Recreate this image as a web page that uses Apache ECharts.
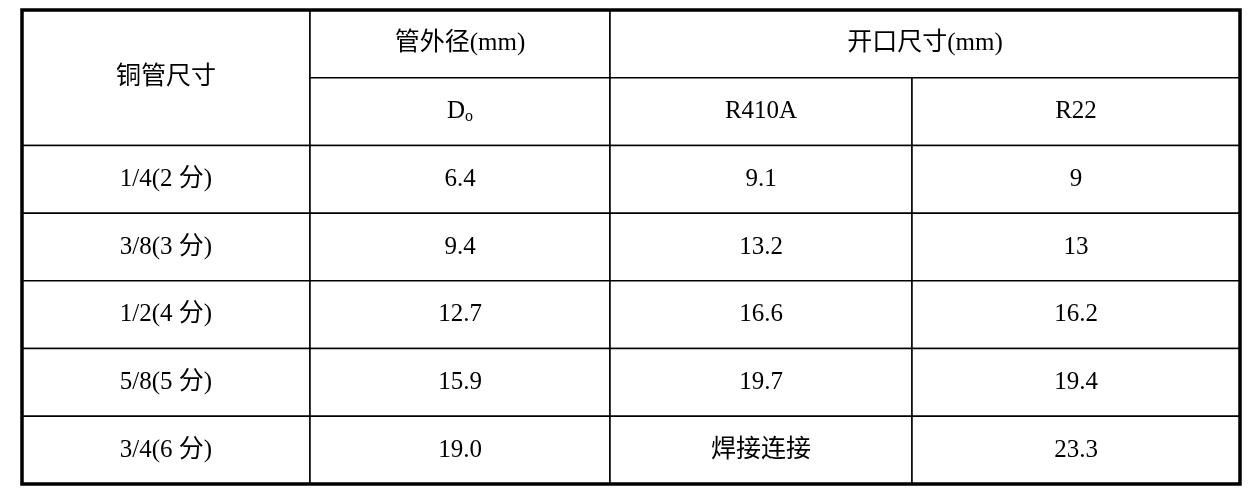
<!DOCTYPE html>
<html><head><meta charset="utf-8">
<script src="https://cdn.jsdelivr.net/npm/echarts@6/dist/echarts.min.js"></script>
<style>html,body{margin:0;padding:0;background:#fff}#c{width:1253px;height:497px}</style>
</head><body><div id="c"></div>
<script>
const colEdges = [0, 288, 588, 890, 1218];
const headerCells = [
  [0, 1, 0, 2, '铜管尺寸'],
  [1, 2, 0, 1, '管外径(mm)'],
  [2, 4, 0, 1, '开口尺寸(mm)'],
  [1, 2, 1, 2, '{d|D}{s|o}'],
  [2, 3, 1, 2, 'R410A'],
  [3, 4, 1, 2, 'R22']
];
const sizes = ['1/4(2 分)', '3/8(3 分)', '1/2(4 分)', '5/8(5 分)', '3/4(6 分)'];
const outerDiameter = ['6.4', '9.4', '12.7', '15.9', '19.0'];
const r410a = ['9.1', '13.2', '16.6', '19.7', '焊接连接'];
const r22 = ['9', '13', '16.2', '19.4', '23.3'];

const cells = headerCells.map(c => [colEdges[c[0]], colEdges[c[1]], c[2], c[3], c[4]]);
sizes.forEach((s, i) => {
  const row = [s, outerDiameter[i], r410a[i], r22[i]];
  row.forEach((t, j) => cells.push([colEdges[j], colEdges[j + 1], i + 2, i + 3, t]));
});
const font = '"Liberation Serif","Noto Sans CJK SC",serif';
const chart = echarts.init(document.getElementById('c'));
chart.setOption({
  animation: false,
  grid: {left: 22, right: 13, top: 10, bottom: 13},
  xAxis: {type: 'value', min: 0, max: 1218, show: false},
  yAxis: {type: 'value', min: 0, max: 7, inverse: true, show: false},
  series: [{
    type: 'custom',
    data: cells,
    renderItem: (params, api) => {
      const p0 = api.coord([api.value(0), api.value(2)]);
      const p1 = api.coord([api.value(1), api.value(3)]);
      const txt = cells[params.dataIndex][4];
      return {
        type: 'rect',
        shape: {x: p0[0], y: p0[1], width: p1[0] - p0[0], height: p1[1] - p0[1]},
        style: {fill: '#fff', stroke: '#000', lineWidth: 1.5},
        textContent: {
          style: {
            text: txt, fill: '#000', fontSize: 25, fontFamily: font,
            rich: {d: {fontSize: 25, fontFamily: font}, s: {fontSize: 16, fontFamily: font, verticalAlign: 'bottom', padding: [10, 0, 0, 0]}}
          }
        },
        textConfig: {position: 'inside'}
      };
    }
  }, {
    type: 'custom',
    data: [[0, 1218, 0, 7]],
    z: 5,
    renderItem: (params, api) => {
      const p0 = api.coord([api.value(0), api.value(2)]);
      const p1 = api.coord([api.value(1), api.value(3)]);
      return {type: 'rect', shape: {x: p0[0], y: p0[1], width: p1[0] - p0[0], height: p1[1] - p0[1]},
        style: {fill: 'none', stroke: '#000', lineWidth: 3.5}};
    }
  }]
});
</script></body></html>
